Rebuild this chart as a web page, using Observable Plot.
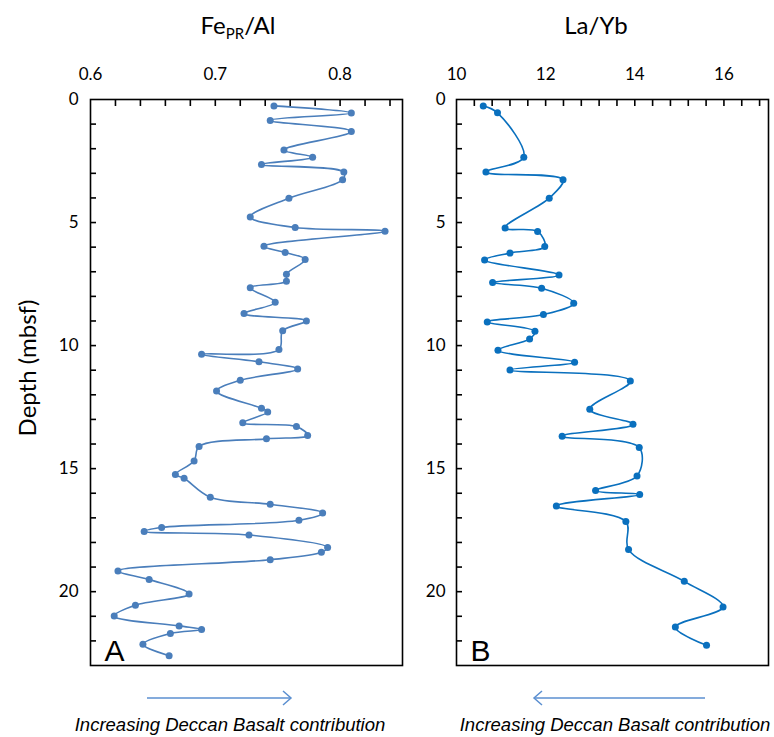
<!DOCTYPE html>
<html>
<head>
<meta charset="utf-8">
<script src="https://cdn.jsdelivr.net/npm/d3@7"></script>
<script src="https://cdn.jsdelivr.net/npm/@observablehq/plot@0.6"></script>
<style>
  body { margin: 0; background: #fff; }
  #wrap { position: relative; width: 774px; height: 737px; background: #fff; overflow: hidden;
          font-family: Lato, "Open Sans", sans-serif; color: #000; }
  .abs { position: absolute; }
  .title { top: 13px; font-size: 24px; line-height: 1; white-space: nowrap; transform: translateX(-50%); }
  .title sub { font-size: 15px; vertical-align: -5px; line-height: 0; }
  .ylab { left: 26px; top: 368px; font-size: 24px; white-space: nowrap; transform: translate(-50%, -50%) rotate(-90deg); }
  .cap { top: 716px; font-family: "Liberation Sans", Arial, sans-serif; font-style: italic; font-size: 18.5px;
         white-space: nowrap; transform: translateX(-50%); line-height: 1; }
  svg.plot { position: absolute; top: 0; }
</style>
</head>
<body>
<div id="wrap">
  <div class="abs title" style="left:238px">Fe<sub>PR</sub>/Al</div>
  <div class="abs title" style="left:596px">La/Yb</div>
  <div class="abs ylab">Depth (mbsf)</div>
  <svg class="abs" style="left:0;top:0" width="774" height="737">
    <g stroke="#5b8fd0" stroke-width="1.5" fill="none">
      <line x1="147" y1="698" x2="291" y2="698"/>
      <polyline points="283,691 291,698 283,705"/>
      <line x1="534" y1="698" x2="705" y2="698"/>
      <polyline points="542,691 534,698 542,705"/>
    </g>
  </svg>
  <div class="abs cap" style="left:230px">Increasing Deccan Basalt contribution</div>
  <div class="abs cap" style="left:615px">Increasing Deccan Basalt contribution</div>
</div>
<script>
// ---- Data: panel A (FePR/Al vs depth) ----
const depthA = [0.26,0.55,0.85,1.30,2.05,2.35,2.64,2.95,3.26,4.01,4.77,5.20,5.35,5.96,6.22,6.50,7.10,7.39,7.65,8.24,8.70,9.00,9.40,10.16,10.35,10.66,10.95,11.41,11.85,12.55,12.70,13.14,13.29,13.65,13.79,14.10,14.69,15.24,15.39,16.16,16.45,16.80,17.10,17.39,17.55,17.70,18.21,18.40,18.70,19.16,19.51,20.09,20.55,20.99,21.39,21.54,21.70,22.14,22.60];
const feAl = [0.747,0.809,0.744,0.809,0.755,0.778,0.737,0.803,0.802,0.759,0.728,0.764,0.836,0.739,0.756,0.772,0.757,0.757,0.728,0.748,0.723,0.773,0.754,0.751,0.689,0.735,0.766,0.720,0.701,0.737,0.742,0.722,0.765,0.774,0.741,0.687,0.683,0.668,0.675,0.696,0.744,0.786,0.767,0.657,0.643,0.727,0.790,0.785,0.744,0.622,0.647,0.679,0.636,0.619,0.671,0.689,0.664,0.642,0.663];

// ---- Data: panel B (La/Yb vs depth) ----
const depthB = [0.26,0.54,2.35,2.95,3.26,4.01,5.22,5.36,5.97,6.24,6.52,7.13,7.44,7.67,8.28,8.74,9.04,9.42,9.73,10.19,10.68,10.99,11.44,12.59,13.20,13.68,14.14,15.30,15.89,16.05,16.52,17.15,18.29,19.58,20.62,21.44,22.18];
const laYb = [10.60,10.92,11.51,10.66,12.39,12.08,11.09,11.82,11.98,11.20,10.63,12.30,10.81,11.91,12.63,11.95,10.69,11.76,11.64,10.93,12.65,11.20,13.90,12.99,13.96,12.37,14.10,14.05,13.12,14.11,12.24,13.80,13.86,15.11,15.98,14.91,15.61];

// ---- Tick labels ----
const xTicksA = [0.6, 0.7, 0.8];
const xMinorA = [0.62,0.64,0.66,0.68,0.70,0.72,0.74,0.76,0.78,0.80,0.82,0.84];
const xTicksB = [10, 12, 14, 16];
const xMinorB = [10.4,10.8,11.2,11.6,12,12.4,12.8,13.2,13.6,14,14.4,14.8,15.2,15.6,16,16.4,16.8];
const yTicks = [0, 5, 10, 15, 20];
const yMinor = [1,2,3,4,5,6,7,8,9,10,11,12,13,14,15,16,17,18,19,20,21,22];

const dataA = depthA.map((d, i) => ({depth: d, value: feAl[i]}));
const dataB = depthB.map((d, i) => ({depth: d, value: laYb[i]}));

const colorA = "#4a7ebb";
const colorB = "#0a70be";

const H = 680, MT = 99, MB = 15;

function panel({data, color, xDomain, xTicks, xMinor, fmt, letter, width, marginLeft, marginRight, yPad}) {
  const frameW = width - marginLeft - marginRight;
  const frameH = H - MT - MB;
  return Plot.plot({
    width, height: H,
    marginLeft, marginRight, marginTop: MT, marginBottom: MB,
    style: {fontFamily: "Lato, 'Open Sans', sans-serif", fontSize: "17px", color: "#000", background: "transparent", overflow: "visible"},
    x: {domain: xDomain},
    y: {domain: [0, 23], reverse: true},
    marks: [
      Plot.axisX({anchor: "top", ticks: xTicks, tickSize: 0, tickPadding: 20, tickFormat: fmt, label: null}),
      Plot.axisY({anchor: "left", ticks: yTicks, tickSize: 0, tickPadding: yPad, label: null}),
      // inward tick marks along top and left edges of the frame
      Plot.tickX(xMinor, {x: d => d, insetBottom: frameH - 7, stroke: "#000", strokeWidth: 1.6}),
      Plot.tickY(yMinor, {y: d => d, insetRight: frameW - 6, stroke: "#000", strokeWidth: 1.6}),
      Plot.line(data, {x: "value", y: "depth", curve: "catmull-rom", stroke: color, strokeWidth: 1.6}),
      Plot.dot(data, {x: "value", y: "depth", r: 3.5, fill: color, stroke: "none"}),
      Plot.frame({stroke: "#000", strokeWidth: 1.6, fill: "none"}),
      Plot.text([letter], {frameAnchor: "bottom-left", dx: 14, dy: -5, fontSize: 30, fontFamily: "'Liberation Sans', Arial, sans-serif", fill: "#000"})
    ]
  });
}

const a = panel({data: dataA, color: colorA, xDomain: [0.6, 0.85], xTicks: xTicksA, xMinor: xMinorA,
                 fmt: d => d.toFixed(1), letter: "A", width: 415, marginLeft: 90, marginRight: 13, yPad: 12});
const b = panel({data: dataB, color: colorB, xDomain: [10, 17], xTicks: xTicksB, xMinor: xMinorB,
                 fmt: d => String(d), letter: "B", width: 359, marginLeft: 41, marginRight: 6, yPad: 11});
a.classList.add("plot"); a.style.left = "0px";
b.classList.add("plot"); b.style.left = "415px";
const wrap = document.getElementById("wrap");
wrap.appendChild(a);
wrap.appendChild(b);
</script>
</body>
</html>
